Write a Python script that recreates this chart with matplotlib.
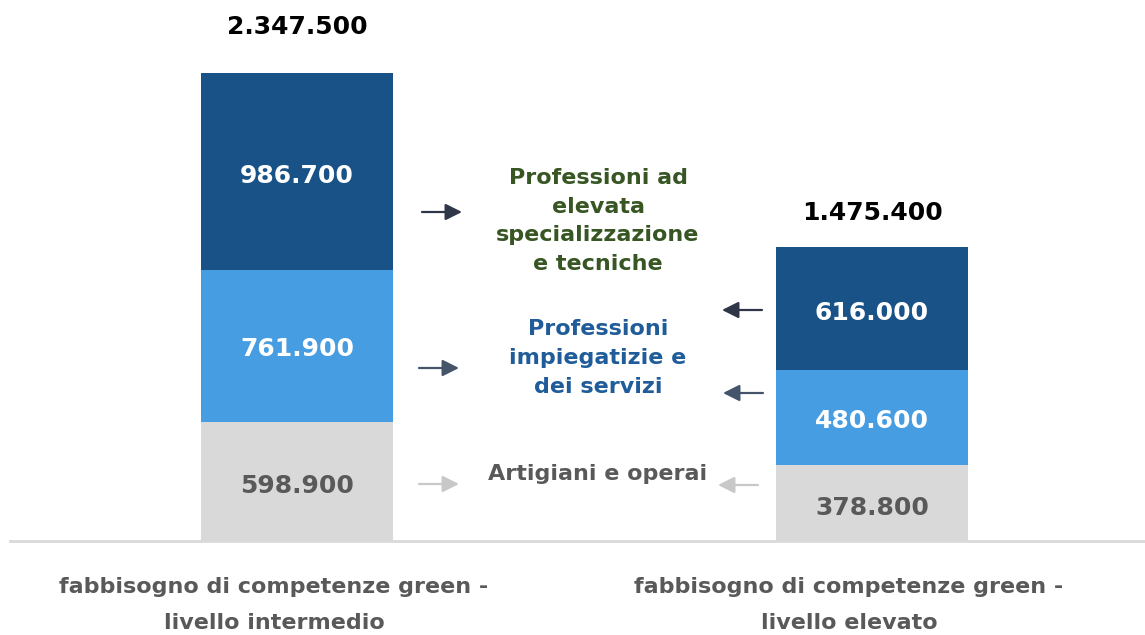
import matplotlib
matplotlib.use("Agg")
import matplotlib.pyplot as plt
import numpy as np

categories = ["fabbisogno di competenze green -\nlivello intermedio",
              "fabbisogno di competenze green -\nlivello elevato"]
series_names = ["Artigiani e operai",
                "Professioni\nimpiegatizie e\ndei servizi",
                "Professioni ad\nelevata\nspecializzazione\ne tecniche"]
artigiani = [598900, 378800]
impiegatizie = [761900, 480600]
elevata = [986700, 616000]
totals = [2347500, 1475400]

def fmt(v):
    return f"{v:,}".replace(",", ".")

W, H = 1145, 635
fig = plt.figure(figsize=(W / 100, H / 100), dpi=100)
ax = fig.add_axes([10 / W, 94 / H, 1 - 10 / W, 541 / H])
scale = 468 / 2347500  # px per unit
ax.set_ylim(0, 541 / scale)
ax.set_xlim(-287 / 575, 1 + 273 / 575)
ax.axis("off")

def py(y):  # pixel y (from top) -> data value
    return (541 - y) / scale

def px(x):  # pixel x -> data x
    return (x - 297) / 575

x = np.arange(len(categories))
w = 192 / 575
c_gray, c_light, c_dark = "#D9D9D9", "#469DE2", "#195287"
ax.bar(x, artigiani, w, color=c_gray)
ax.bar(x, impiegatizie, w, bottom=artigiani, color=c_light)
bot3 = np.array(artigiani) + np.array(impiegatizie)
ax.bar(x, elevata, w, bottom=bot3, color=c_dark)

fs = 18
for i in range(len(x)):
    ax.text(x[i], artigiani[i] / 2 - 5 / scale, fmt(artigiani[i]), ha="center", va="center",
            color="#595959", fontsize=fs, fontweight="bold")
    ax.text(x[i], artigiani[i] + impiegatizie[i] / 2 - 3 / scale, fmt(impiegatizie[i]),
            ha="center", va="center", color="white", fontsize=fs, fontweight="bold")
    ax.text(x[i], bot3[i] + elevata[i] / 2 - 5 / scale, fmt(elevata[i]),
            ha="center", va="center", color="white", fontsize=fs, fontweight="bold")

ax.text(x[0], py(27), fmt(totals[0]), ha="center", va="center", color="black",
        fontsize=18, fontweight="bold")
ax.text(x[1], py(213), fmt(totals[1]), ha="center", va="center", color="black",
        fontsize=18, fontweight="bold")

# axis line
ax.plot([px(10), px(1145)], [0, 0], color="#D9D9D9", lw=2, clip_on=False, zorder=0)

# category labels
for i, c in enumerate(categories):
    ax.text(x[i] + px(274) - px(297), py(605), c, ha="center", va="center",
            color="#595959", fontsize=16, fontweight="bold", linespacing=1.95,
            clip_on=False)

# middle labels
mid = px(598)
ax.text(mid, py(221), series_names[2], ha="center", va="center", color="#375623",
        fontsize=16, fontweight="bold", linespacing=1.55)
ax.text(mid, py(358), series_names[1], ha="center", va="center", color="#1F5C99",
        fontsize=16, fontweight="bold", linespacing=1.55)
ax.text(mid, py(474), series_names[0], ha="center", va="center", color="#595959",
        fontsize=16, fontweight="bold")

# arrows
arrows = [
    (422, 462, 212, "#2E3648"),
    (419, 459, 368, "#44546A"),
    (419, 459, 484, "#C8C8C8"),
    (762, 722, 310, "#2E3648"),
    (763, 723, 393, "#44546A"),
    (758, 718, 485, "#C8C8C8"),
]
for x0, x1, yy, col in arrows:
    ax.annotate("", xy=(px(x1), py(yy)), xytext=(px(x0), py(yy)),
                arrowprops=dict(arrowstyle="-|>,head_length=1.0,head_width=0.5",
                                color=col, lw=1.6, shrinkA=0, shrinkB=0))

fig.savefig("out.png", dpi=100)
